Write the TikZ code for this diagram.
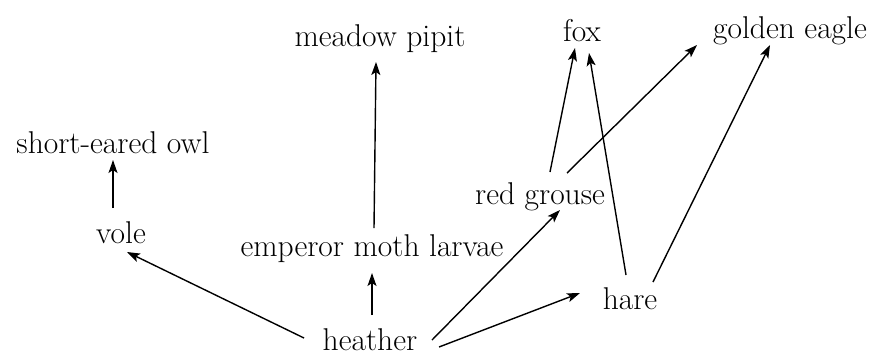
\documentclass[tikz,border=0pt]{standalone}
\usetikzlibrary{arrows.meta,calc}
\begin{document}
\begin{tikzpicture}[x=1pt,y=-1pt,
  lab/.style={inner sep=0pt,font=\fontsize{31.5}{36}\selectfont},
  arr/.style={-{Stealth[length=13pt,width=9pt,inset=3pt]},line width=1.4pt}]
\useasboundingbox (0,0) rectangle (875,360);
\node[lab] (owl) at (113,143) {short-eared owl};
\node[lab] (vole) at (121,233) {vole};
\node[lab] (pipit) at (380,39) {meadow pipit};
\node[lab] (fox) at (582,31) {fox};
\node[lab] (eagle) at (790,31) {golden eagle};
\node[lab] (grouse) at (540,197) {red grouse};
\node[lab] (moth) at (372,249) {emperor moth larvae};
\node[lab] (heather) at (370,340) {heather};
\node[lab] (hare) at (630,299) {hare};
\draw[arr] ($(vole)+(-8,-25)$) -- ($(owl)+(0,17)$);
\draw[arr] ($(heather)+(-66,-2)$) -- ($(vole)+(6,19)$);
\draw[arr] ($(heather)+(2,-25)$) -- ($(moth)+(0,24)$);
\draw[arr] ($(moth)+(2,-21)$) -- ($(pipit)+(-4,23)$);
\draw[arr] ($(heather)+(62,0)$) -- ($(grouse)+(20,13)$);
\draw[arr] ($(heather)+(69,7)$) -- ($(hare)+(-50,-6)$);
\draw[arr] ($(grouse)+(10,-25)$) -- ($(fox)+(-7,17)$);
\draw[arr] ($(grouse)+(27,-24)$) -- ($(eagle)+(-93,14)$);
\draw[arr] ($(hare)+(-4,-24)$) -- ($(fox)+(7,22)$);
\draw[arr] ($(hare)+(23,-17)$) -- ($(eagle)+(-20,14)$);
\end{tikzpicture}
\end{document}
